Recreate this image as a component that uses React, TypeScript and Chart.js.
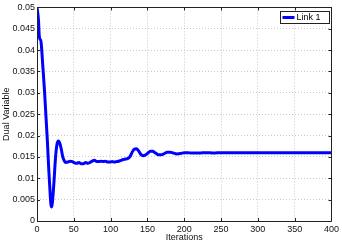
import React, { useEffect, useRef } from "react";
import { Chart, registerables } from "chart.js";

Chart.register(...registerables);

const iterations = [
  0, 2, 3, 4, 5, 6, 8, 10, 12, 14, 16, 18, 19, 20, 21, 23, 25, 27, 29, 31, 33, 35, 37, 39,
  42, 45, 48, 51, 54, 57, 60, 63, 66, 69, 72, 75, 78, 81, 84, 87, 90, 93, 96, 99, 102, 105,
  108, 111, 114, 117, 120, 123, 126, 129, 132, 135, 138, 141, 144, 147, 150, 154, 157, 161,
  165, 169, 173, 177, 181, 185, 190, 195, 200, 205, 210, 220, 230, 240, 250, 270, 300, 350, 400,
];
const link1 = [
  0.05, 0.047, 0.0435, 0.0425, 0.0425, 0.041, 0.036, 0.031, 0.025, 0.019, 0.012, 0.006, 0.0038,
  0.0033, 0.0045, 0.009, 0.0145, 0.0178, 0.0187, 0.0182, 0.0168, 0.015, 0.0141, 0.0137,
  0.0138, 0.014, 0.0139, 0.0136, 0.0135, 0.0137, 0.0134, 0.0134, 0.0137, 0.0135, 0.0137, 0.014,
  0.0142, 0.0139, 0.0139, 0.014, 0.0139, 0.014, 0.0138, 0.0138, 0.0139, 0.0138, 0.0139, 0.014,
  0.0142, 0.0144, 0.0145, 0.0146, 0.015, 0.016, 0.0168, 0.0169, 0.0164, 0.0156, 0.0153, 0.0154,
  0.0158, 0.0163, 0.0163, 0.0159, 0.0155, 0.0155, 0.0158, 0.0161, 0.0161, 0.0159, 0.0157,
  0.0158, 0.016, 0.016, 0.0159, 0.0159, 0.016, 0.0159, 0.016, 0.016, 0.016, 0.016, 0.016,
];
const xTicks = [0, 50, 100, 150, 200, 250, 300, 350, 400];
const yTicks = [0, 0.005, 0.01, 0.015, 0.02, 0.025, 0.03, 0.035, 0.04, 0.045, 0.05];
const seriesLabel = "Link 1";
const xTitle = "Iterations";
const yTitle = "Dual Variable";

const FONT = "'Liberation Sans', Arial, sans-serif";

const framePlugin = {
  id: "frame",
  afterDraw(chart: any) {
    const { ctx, chartArea } = chart;
    const { left, right, top, bottom } = chartArea;
    const xs = chart.scales.x;
    const ys = chart.scales.y;
    ctx.save();
    ctx.strokeStyle = "#222";
    ctx.lineWidth = 1;
    ctx.beginPath();
    ctx.rect(Math.round(left) + 0.5, Math.round(top) + 0.5, Math.round(right - left), Math.round(bottom - top));
    ctx.stroke();
    const tl = 3;
    ctx.beginPath();
    xTicks.forEach((v) => {
      const px = Math.round(xs.getPixelForValue(v)) + 0.5;
      ctx.moveTo(px, bottom);
      ctx.lineTo(px, bottom - tl);
      ctx.moveTo(px, top);
      ctx.lineTo(px, top + tl);
    });
    yTicks.forEach((v) => {
      const py = Math.round(ys.getPixelForValue(v)) + 0.5;
      ctx.moveTo(left, py);
      ctx.lineTo(left + tl, py);
      ctx.moveTo(right, py);
      ctx.lineTo(right - tl, py);
    });
    ctx.stroke();

    // legend
    const bw = 49;
    const bh = 12;
    const bx = Math.round(right) - 2 - bw + 0.5;
    const by = Math.round(top) + 4 + 0.5;
    ctx.fillStyle = "#fff";
    ctx.fillRect(bx, by, bw, bh);
    ctx.strokeStyle = "#222";
    ctx.strokeRect(bx, by, bw, bh);
    const ly = by + bh / 2;
    ctx.strokeStyle = "#0000ff";
    ctx.lineWidth = 3;
    ctx.beginPath();
    ctx.moveTo(bx + 2, ly);
    ctx.lineTo(bx + 14, ly);
    ctx.stroke();
    ctx.fillStyle = "#000";
    ctx.font = `9px ${FONT}`;
    ctx.textBaseline = "middle";
    ctx.textAlign = "left";
    ctx.fillText(chart.data.datasets[0].label, bx + 16, ly + 0.5);
    ctx.restore();
  },
};

export default function App() {
  const ref = useRef<HTMLCanvasElement | null>(null);
  useEffect(() => {
    if (!ref.current) return;
    const points = iterations.map((x, i) => ({ x, y: link1[i] }));
    const chart = new Chart(ref.current, {
      type: "line",
      data: {
        datasets: [
          {
            label: seriesLabel,
            data: points,
            borderColor: "#0000ff",
            backgroundColor: "#0000ff",
            borderWidth: 3,
            pointRadius: 0,
            tension: 0.35,
            cubicInterpolationMode: "monotone",
            fill: false,
          },
        ],
      },
      options: {
        animation: false,
        responsive: false,
        maintainAspectRatio: false,
        layout: { padding: { top: 5, right: 10, left: 0, bottom: 0 } },
        plugins: { legend: { display: false }, tooltip: { enabled: false } },
        scales: {
          x: {
            type: "linear",
            min: 0,
            max: 400,
            afterBuildTicks: (s: any) => {
              s.ticks = xTicks.map((v) => ({ value: v }));
            },
            afterFit: (s: any) => {
              s.height = 22;
            },
            grid: { color: "#c8c8c8", drawTicks: false, lineWidth: 1 },
            border: { display: false, dash: [1, 2] },
            ticks: {
              color: "#111",
              font: { family: FONT, size: 9 },
              padding: 3,
              maxRotation: 0,
              autoSkip: false,
              callback: (v: any) => String(v),
            },
            title: {
              display: true,
              text: xTitle,
              color: "#111",
              font: { family: FONT, size: 9 },
              padding: { top: 0, bottom: 0 },
            },
          },
          y: {
            type: "linear",
            min: 0,
            max: 0.05,
            afterBuildTicks: (s: any) => {
              s.ticks = yTicks.map((v) => ({ value: v }));
            },
            afterFit: (s: any) => {
              s.width = 37;
            },
            grid: { color: "#c8c8c8", drawTicks: false, lineWidth: 1 },
            border: { display: false, dash: [1, 2] },
            ticks: {
              color: "#111",
              font: { family: FONT, size: 9 },
              padding: 2,
              autoSkip: false,
              callback: (v: any) => String(+Number(v).toFixed(3)),
            },
            title: {
              display: true,
              text: yTitle,
              color: "#111",
              font: { family: FONT, size: 9 },
              padding: { top: 1, bottom: 0 },
            },
          },
        },
      },
      plugins: [framePlugin],
    } as any);
    return () => chart.destroy();
  }, []);
  return (
    <div style={{ position: "fixed", left: 0, top: 0, width: 342, height: 243, background: "#fff" }}>
      <canvas ref={ref} width={342} height={243} style={{ display: "block" }} />
    </div>
  );
}
